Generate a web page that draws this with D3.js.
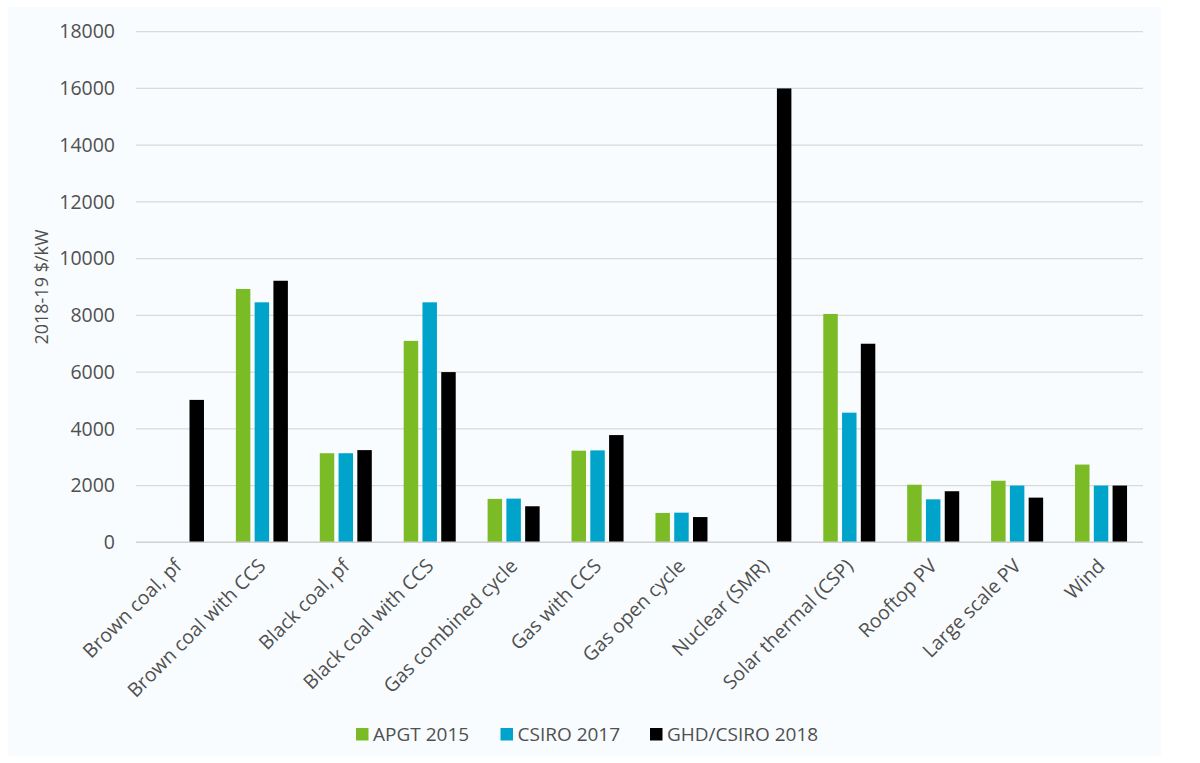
<!DOCTYPE html>
<html>
<head>
<meta charset="utf-8">
<script src="https://cdn.jsdelivr.net/npm/d3@7"></script>
<style>
  html, body { margin: 0; padding: 0; background: #ffffff; }
  svg { display: block; }
  text { font-family: "Open Sans", sans-serif; fill: #505050; }
</style>
</head>
<body>
<svg id="chart" width="1200" height="763"></svg>
<script>
const categories = ["Brown coal, pf", "Brown coal with CCS", "Black coal, pf", "Black coal with CCS",
  "Gas combined cycle", "Gas with CCS", "Gas open cycle", "Nuclear (SMR)", "Solar thermal (CSP)",
  "Rooftop PV", "Large scale PV", "Wind"];
const seriesNames = ["APGT 2015", "CSIRO 2017", "GHD/CSIRO 2018"];
const apgt2015  = [null, 8930, 3140, 7100, 1530, 3230, 1035, null, 8050, 2030, 2170, 2740];
const csiro2017 = [null, 8460, 3140, 8460, 1540, 3240, 1045, null, 4570, 1515, 2000, 2000];
const ghd2018   = [5020, 9220, 3250, 6000, 1270, 3780, 890, 16000, 7000, 1800, 1575, 2000];
const yTicks = [0, 2000, 4000, 6000, 8000, 10000, 12000, 14000, 16000, 18000];
const colors = ["#7bbb25", "#00a4cb", "#000000"];
const yTitle = "2018-19 $/kW";

const seriesValues = [apgt2015, csiro2017, ghd2018];

const svg = d3.select("#chart");
// panel background
svg.append("rect").attr("x", 8).attr("y", 7).attr("width", 1153).attr("height", 749)
  .attr("fill", "#f9fcfe");

const mLeft = 136, mRight = 1143, mTop = 31.7, mBottom = 542.3;

const x0 = d3.scaleBand().domain(categories).range([mLeft, mRight]).paddingInner(0).paddingOuter(0);
const step = x0.step();
const groupW = step * 0.62;
const x1 = d3.scaleBand().domain(seriesNames)
  .range([(step - groupW) / 2, (step + groupW) / 2]).paddingInner(0.229).paddingOuter(0);
const y = d3.scaleLinear().domain([0, 18000]).range([mBottom, mTop]);

// gridlines
const grid = svg.append("g");
grid.selectAll("line").data(yTicks.filter(d => d > 0)).join("line")
  .attr("x1", mLeft).attr("x2", mRight)
  .attr("y1", d => y(d)).attr("y2", d => y(d))
  .attr("stroke", "#d9d9d9").attr("stroke-width", 1.2);

// y axis labels
const yAxis = d3.axisLeft(y).tickValues(yTicks).tickSize(0).tickPadding(0).tickFormat(d3.format("d"));
const yg = svg.append("g").attr("transform", `translate(${mLeft - 21},0)`).call(yAxis);
yg.select(".domain").remove();
yg.selectAll("text").style("font-size", "19.5px").style("fill", "#505050")
  .style("font-family", "'Open Sans', sans-serif");

// bars
const groups = svg.append("g").selectAll("g").data(categories).join("g")
  .attr("transform", d => `translate(${x0(d)},0)`);
groups.selectAll("rect")
  .data((c, i) => seriesNames.map((s, j) => ({ s, j, v: seriesValues[j][i] })).filter(d => d.v != null))
  .join("rect")
  .attr("x", d => x1(d.s))
  .attr("width", x1.bandwidth())
  .attr("y", d => y(d.v))
  .attr("height", d => y(0) - y(d.v))
  .attr("fill", d => colors[d.j]);

// x axis line
svg.append("line").attr("x1", mLeft).attr("x2", mRight).attr("y1", y(0)).attr("y2", y(0))
  .attr("stroke", "#d0d0d0").attr("stroke-width", 1.5);

// x labels
const xAxis = d3.axisBottom(x0).tickSize(0).tickPadding(0);
const xg = svg.append("g").attr("transform", `translate(0,${mBottom})`).call(xAxis);
xg.select(".domain").remove();
xg.selectAll("text")
  .style("font-size", "19.5px").style("fill", "#505050")
  .style("font-family", "'Open Sans', sans-serif")
  .attr("text-anchor", "end")
  .attr("dy", null)
  .attr("y", 0)
  .attr("transform", "translate(5,25) rotate(-45)");

// y title
svg.append("text")
  .attr("transform", `translate(48,${(mTop + mBottom) / 2}) rotate(-90)`)
  .attr("text-anchor", "middle")
  .style("font-size", "18px")
  .text(yTitle);

// legend
const legendX = [356, 500.5, 650];
const legend = svg.append("g").selectAll("g").data(seriesNames).join("g")
  .attr("transform", (d, i) => `translate(${legendX[i]},728)`);
legend.append("rect").attr("width", 12.5).attr("height", 12.5).attr("fill", (d, i) => colors[i]);
legend.append("text").attr("x", 17).attr("y", 12.5).style("font-size", "19px").text(d => d);
</script>
</body>
</html>
